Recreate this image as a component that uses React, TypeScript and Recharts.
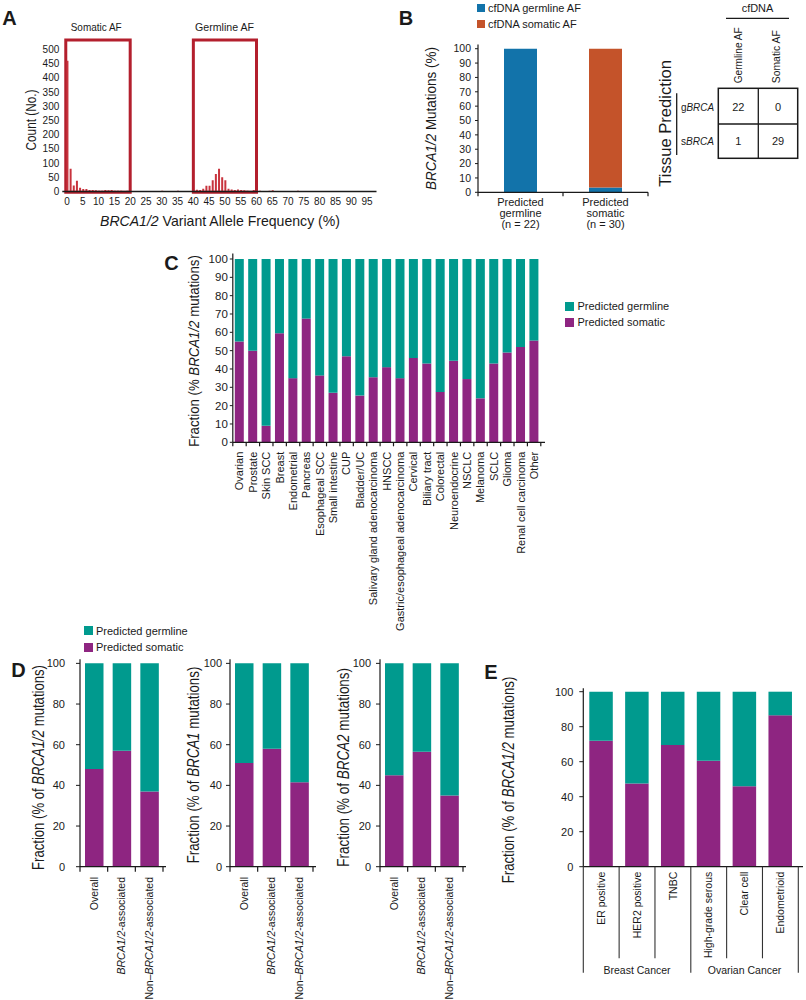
import React from 'react';
import { BarChart, Bar, XAxis, YAxis, ReferenceArea, Legend } from 'recharts';

const FONT = '"Liberation Sans", Arial, Helvetica, sans-serif';
const INK = '#1a1a1a';
const TEAL = '#009a8e';
const PURPLE = '#8e2581';
const BLUE = '#1273aa';
const ORANGE = '#c4532a';
const BOX_RED = '#b31f2d';
const BAR_RED = '#c8333d';

// ---------- Panel A: histogram of variant allele frequency ----------
const afBins = [0,1,2,3,4,5,6,7,8,9,10,11,12,13,14,15,16,17,18,19,20,21,22,23,24,25,26,27,28,29,30,31,32,33,34,35,36,37,38,39,40,41,42,43,44,45,46,47,48,49,50,51,52,53,54,55,56,57,58,59,60,61,62,63,64,65,66,67,68,69,70,71,72,73,74,75,76,77,78,79,80,81,82,83,84,85,86,87,88,89,90,91];
const afCounts = [460,80,21,38,13,9,9,5,5,4,3,3,5,4,5,3,3,3,2,3,2,0,2,2,0,2,0,2,2,0,3,0,2,0,0,3,2,2,2,1,1,6,5,10,20,20,40,62,80,50,40,10,7,5,7,5,4,3,2,5,3,3,2,0,3,4,2,0,1,0,2,0,2,3,0,1,0,2,1,0,1,0,1,0,0,2,2,1,2,1,2,1];
const afTicks = [0,5,10,15,20,25,30,35,40,45,50,55,60,65,70,75,80,85,90,95];
const countTicks = [0,50,100,150,200,250,300,350,400,450,500];
const somaticWindow = [0, 20];
const germlineWindow = [40, 60];

// ---------- Panel B ----------
const bCategories = ['Predicted germline', 'Predicted somatic'];
const bLabelLines = [['Predicted', 'germline', '(n = 22)'], ['Predicted', 'somatic', '(n = 30)']];
const bGermlineAF = [100, 3.3];
const bSomaticAF = [0, 96.7];
const bTicks = [0,10,20,30,40,50,60,70,80,90,100];
const tableRows = ['gBRCA', 'sBRCA'];
const tableCols = ['Germline AF', 'Somatic AF'];
const tableValues = [[22, 0], [1, 29]];

// ---------- Panel C ----------
const cTumors = ['Ovarian','Prostate','Skin SCC','Breast','Endometrial','Pancreas','Esophageal SCC','Small intestine','CUP','Bladder/UC','Salivary gland adenocarcinoma','HNSCC','Gastric/esophageal adenocarcinoma','Cervical','Biliary tract','Colorectal','Neuroendocrine','NSCLC','Melanoma','SCLC','Glioma','Renal cell carcinoma','Other'];
const cSomatic = [55,50,9,59.5,35,67.5,36.5,27,47,25.5,35.5,41,35,46,43,27.5,44.5,34.5,24,43,49,52,55.5];
const cGermline = [45,50,91,40.5,65,32.5,63.5,73,53,74.5,64.5,59,65,54,57,72.5,55.5,65.5,76,57,51,48,44.5];
const pctTicks10 = [0,10,20,30,40,50,60,70,80,90,100];

// ---------- Panel D ----------
const dCategories = ['Overall', 'BRCA1/2-associated', 'Non\u2013BRCA1/2-associated'];
const d1Somatic = [48, 57, 37];
const d1Germline = [52, 43, 63];
const d2Somatic = [51, 58, 41.5];
const d2Germline = [49, 42, 58.5];
const d3Somatic = [45, 56.5, 35];
const d3Germline = [55, 43.5, 65];
const pctTicks20 = [0,20,40,60,80,100];

// ---------- Panel E ----------
const eSubtypes = ['ER positive','HER2 positive','TNBC','High-grade serous','Clear cell','Endometrioid'];
const eSomatic = [72, 47.5, 69.5, 60.5, 46, 86.5];
const eGermline = [28, 52.5, 30.5, 39.5, 54, 13.5];
const eGroups = ['Breast Cancer', 'Ovarian Cancer'];
const eGroupOf = [0, 0, 0, 1, 1, 1];

function rich(s: string) {
  const parts = s.split(/(BRCA1\/2|BRCA1|BRCA2|BRCA)/).filter((p) => p !== '');
  return parts.map((p, i) =>
    /^BRCA/.test(p) ? <tspan key={i} fontStyle="italic">{p}</tspan> : <tspan key={i}>{p}</tspan>
  );
}

const tickStyle = (size: number) => ({ fontSize: size, fill: INK, fontFamily: FONT });

const makeLegend = (order: string[], sq: number, rowH: number, gap: number) => (props: any) => {
  const items = (props.payload || []).slice().sort(
    (a: any, b: any) => order.indexOf(a.value) - order.indexOf(b.value)
  );
  return (
    <div style={{ fontFamily: FONT, fontSize: 11, color: INK, whiteSpace: 'nowrap' }}>
      {items.map((it: any) => (
        <div key={it.value} style={{ display: 'flex', alignItems: 'center', height: rowH }}>
          <span style={{ display: 'inline-block', width: sq, height: sq, background: it.color, marginRight: gap }} />
          <span>{it.value}</span>
        </div>
      ))}
    </div>
  );
};

// ---------- Panel A chart ----------
const aData = afBins.map((b, i) => ({ af: b, count: afCounts[i] }));

function PanelA() {
  return (
    <BarChart width={400} height={230} data={aData} margin={{ top: 39.5, right: 23.5, bottom: 0, left: 22.3 }}>
      <XAxis type="number" dataKey="af" domain={[-1.5, 98]} ticks={afTicks} interval={0} allowDataOverflow
        tickLine={false} axisLine={{ stroke: INK, strokeWidth: 1.6 }} tickSize={0} tickMargin={6}
        tick={tickStyle(10)} height={38.5} />
      <YAxis type="number" domain={[0, 535]} ticks={countTicks} interval={0} width={40}
        axisLine={false} tickLine={false} tickSize={0} tickMargin={3} tick={tickStyle(10)} />
      <Bar dataKey="count" fill={BAR_RED} barSize={2} isAnimationActive={false} />
      <ReferenceArea x1={somaticWindow[0] - 0.4} x2={somaticWindow[1]} y1={-3} y2={533} fill="none" fillOpacity={0}
        stroke={BOX_RED} strokeWidth={3} ifOverflow="visible" />
      <ReferenceArea x1={germlineWindow[0]} x2={germlineWindow[1]} y1={-3} y2={533} fill="none" fillOpacity={0}
        stroke={BOX_RED} strokeWidth={3} ifOverflow="visible" />
    </BarChart>
  );
}

// ---------- Panel B chart ----------
const bData = bCategories.map((c, i) => ({ cat: c, germ: bGermlineAF[i], som: bSomaticAF[i] }));
const B_BW = 85;
const BTick = (props: any) => {
  const { x, y, index } = props;
  const lines = bLabelLines[index] || [];
  return (
    <g>
      <line x1={x - B_BW / 2} x2={x - B_BW / 2} y1={y} y2={y + 4} stroke={INK} strokeWidth={1.2} />
      {index === bCategories.length - 1 && (
        <line x1={x + B_BW / 2} x2={x + B_BW / 2} y1={y} y2={y + 4} stroke={INK} strokeWidth={1.2} />
      )}
      <text x={x} y={y + 10} textAnchor="middle" fontSize={11} fill={INK} fontFamily={FONT}>
        {lines.map((l, i) => (
          <tspan key={i} x={x} dy={i === 0 ? '0.35em' : 11}>{l}</tspan>
        ))}
      </text>
    </g>
  );
};

function PanelB() {
  return (
    <BarChart width={262} height={232} data={bData} margin={{ top: 44.4, right: 24, bottom: 0, left: 38 }} barSize={33}>
      <XAxis dataKey="cat" interval={0} tick={<BTick />} tickLine={false} tickSize={0} tickMargin={0}
        axisLine={{ stroke: INK, strokeWidth: 1.2 }} height={39.7} />
      <YAxis type="number" domain={[0, 103]} ticks={bTicks} interval={0} width={30}
        axisLine={{ stroke: INK, strokeWidth: 1.2 }} tickLine={{ stroke: INK }} tickSize={3} tickMargin={4}
        tick={tickStyle(10.5)} />
      <Bar dataKey="germ" name="cfDNA germline AF" stackId="s" fill={BLUE} isAnimationActive={false} />
      <Bar dataKey="som" name="cfDNA somatic AF" stackId="s" fill={ORANGE} isAnimationActive={false} />
      <Legend layout="vertical" align="center" verticalAlign="middle"
        content={makeLegend(['cfDNA germline AF', 'cfDNA somatic AF'], 8, 16.5, 3)}
        wrapperStyle={{ left: 67, top: -0.5, width: 130, height: 34 }} />
    </BarChart>
  );
}

// ---------- Panel C chart ----------
const cData = cTumors.map((t, i) => ({ tumor: t, som: cSomatic[i], germ: cGermline[i] }));
const C_BW = 308 / 23;
const CTick = (props: any) => {
  const { x, y, payload, index } = props;
  return (
    <g>
      <line x1={x - C_BW / 2} x2={x - C_BW / 2} y1={y} y2={y + 4} stroke={INK} strokeWidth={1.2} />
      {index === cTumors.length - 1 && (
        <line x1={x + C_BW / 2} x2={x + C_BW / 2} y1={y} y2={y + 4} stroke={INK} strokeWidth={1.2} />
      )}
      <text x={x} y={y + 9.4} transform={`rotate(-90 ${x} ${y + 9.4})`} textAnchor="end" dy="0.35em"
        fontSize={11} fill={INK} fontFamily={FONT}>{payload.value}</text>
    </g>
  );
};

function PanelC() {
  return (
    <BarChart width={560} height={392} data={cData} margin={{ top: 13.5, right: 165, bottom: 0, left: 52.8 }} barSize={9}>
      <XAxis dataKey="tumor" interval={0} tick={<CTick />} tickLine={false} tickSize={0} tickMargin={0}
        axisLine={{ stroke: INK, strokeWidth: 1.2 }} height={189.7} padding={{ left: 0, right: 4.2 }} />
      <YAxis type="number" domain={[0, 103]} ticks={pctTicks10} interval={0} width={30}
        axisLine={{ stroke: INK, strokeWidth: 1.2 }} tickLine={{ stroke: INK }} tickSize={3} tickMargin={2}
        tick={tickStyle(11.5)} />
      <Bar dataKey="som" name="Predicted somatic" stackId="s" fill={PURPLE} isAnimationActive={false} />
      <Bar dataKey="germ" name="Predicted germline" stackId="s" fill={TEAL} isAnimationActive={false} />
      <Legend layout="vertical" align="center" verticalAlign="middle"
        content={makeLegend(['Predicted germline', 'Predicted somatic'], 9, 16, 3.5)}
        wrapperStyle={{ left: 415, top: 58, width: 130, height: 32 }} />
    </BarChart>
  );
}

// ---------- Panel D charts ----------
const D_BW = 83 / 3;
const DTick = (props: any) => {
  const { x, y, payload, index } = props;
  return (
    <g>
      <line x1={x - D_BW / 2} x2={x - D_BW / 2} y1={y} y2={y + 5} stroke={INK} strokeWidth={1.2} />
      {index === dCategories.length - 1 && (
        <line x1={x + D_BW / 2} x2={x + D_BW / 2} y1={y} y2={y + 5} stroke={INK} strokeWidth={1.2} />
      )}
      <text x={x} y={y + 10.3} transform={`rotate(-90 ${x} ${y + 10.3})`} textAnchor="end" dy="0.35em"
        fontSize={10.5} fill={INK} fontFamily={FONT}>{rich(String(payload.value))}</text>
    </g>
  );
};

function PanelD({ som, germ, tickMargin, legend }: { som: number[]; germ: number[]; tickMargin: number; legend?: boolean }) {
  const data = dCategories.map((c, i) => ({ cat: c, som: som[i], germ: germ[i] }));
  return (
    <BarChart width={175} height={385} data={data} margin={{ top: 44.3, right: 9, bottom: 0, left: 50 }} barSize={18.5}>
      <XAxis dataKey="cat" interval={0} tick={<DTick />} tickLine={false} tickSize={0} tickMargin={0}
        axisLine={{ stroke: INK, strokeWidth: 1.2 }} height={133.3} padding={{ left: 0, right: 3 }} />
      <YAxis type="number" domain={[0, 102]} ticks={pctTicks20} interval={0} width={30}
        axisLine={{ stroke: INK, strokeWidth: 1.2 }} tickLine={{ stroke: INK }} tickSize={4} tickMargin={tickMargin}
        tick={tickStyle(11)} />
      <Bar dataKey="som" name="Predicted somatic" stackId="s" fill={PURPLE} isAnimationActive={false} />
      <Bar dataKey="germ" name="Predicted germline" stackId="s" fill={TEAL} isAnimationActive={false} />
      {legend && (
        <Legend layout="vertical" align="center" verticalAlign="middle"
          content={makeLegend(['Predicted germline', 'Predicted somatic'], 9, 16.7, 3)}
          wrapperStyle={{ left: 84, top: 7.2, width: 120, height: 34 }} />
      )}
    </BarChart>
  );
}

// ---------- Panel E chart ----------
const eData = eSubtypes.map((s, i) => ({ sub: s, som: eSomatic[i], germ: eGermline[i] }));
const E_BW = 215 / 6;
const ETick = (props: any) => {
  const { x, y, payload, index } = props;
  const groupStart = index === 0 || eGroupOf[index] !== eGroupOf[index - 1];
  const leftLen = groupStart ? 106 : 91.6;
  const isLast = index === eSubtypes.length - 1;
  const isGroupCenter = index === 1 || index === 4;
  return (
    <g>
      <line x1={x - E_BW / 2} x2={x - E_BW / 2} y1={y} y2={y + leftLen} stroke="#333" strokeWidth={1.1} />
      {isLast && <line x1={x + E_BW / 2} x2={x + E_BW / 2} y1={y} y2={y + 106} stroke="#333" strokeWidth={1.1} />}
      <text x={x} y={y + 5} transform={`rotate(-90 ${x} ${y + 5})`} textAnchor="end" dy="0.35em"
        fontSize={10.5} fill={INK} fontFamily={FONT}>{payload.value}</text>
      {isGroupCenter && (
        <text x={x} y={y + 103.3} textAnchor="middle" dominantBaseline="central" fontSize={10.5} fill={INK}
          fontFamily={FONT}>{eGroups[eGroupOf[index]]}</text>
      )}
    </g>
  );
};

function PanelE() {
  return (
    <BarChart width={266} height={350} data={eData} margin={{ top: 38.2, right: 3, bottom: 0, left: 13.3 }} barSize={23.5}>
      <XAxis dataKey="sub" interval={0} tick={<ETick />} tickLine={false} tickSize={0} tickMargin={0}
        axisLine={{ stroke: INK, strokeWidth: 1.2 }} height={133.3} padding={{ left: 0, right: 4.7 }} />
      <YAxis type="number" domain={[0, 102]} ticks={pctTicks20} interval={0} width={30}
        axisLine={{ stroke: INK, strokeWidth: 1.2 }} tickLine={{ stroke: INK }} tickSize={4} tickMargin={6}
        tick={tickStyle(11)} />
      <Bar dataKey="som" name="Predicted somatic" stackId="s" fill={PURPLE} isAnimationActive={false} />
      <Bar dataKey="germ" name="Predicted germline" stackId="s" fill={TEAL} isAnimationActive={false} />
    </BarChart>
  );
}

// ---------- Overlay text ----------
const T = ({ x, y, text, size, len, rot, weight, anchor }: any) => (
  <text x={x} y={y} fontSize={size} fontFamily={FONT} fill={INK} textAnchor={anchor || 'middle'}
    dominantBaseline="central" fontWeight={weight || 400}
    transform={rot ? `rotate(${rot} ${x} ${y})` : undefined}
    textLength={len} lengthAdjust={len ? 'spacingAndGlyphs' : undefined}>{rich(text)}</text>
);

function Overlay() {
  return (
    <svg width={806} height={1000} style={{ position: 'absolute', left: 0, top: 0, pointerEvents: 'none' }}>
      {/* panel letters */}
      <T x={9.5} y={17.5} text="A" size={20} weight={700} />
      <T x={406} y={17.5} text="B" size={20} weight={700} />
      <T x={171.5} y={262.5} text="C" size={20} weight={700} />
      <T x={18.5} y={670} text="D" size={20} weight={700} />
      <T x={491} y={671.5} text="E" size={20} weight={700} />
      {/* panel A */}
      <T x={96.2} y={27.3} text="Somatic AF" size={11} len={51} />
      <T x={224.5} y={27.3} text="Germline AF" size={11} len={59} />
      <T x={30} y={120} text="Count (No.)" size={15} len={61} rot={-90} />
      <T x={220} y={220} text="BRCA1/2 Variant Allele Frequency (%)" size={15} len={240} />
      {/* panel B */}
      <T x={429.5} y={118.5} text="BRCA1/2 Mutations (%)" size={15} len={143} rot={-90} />
      <T x={757.5} y={7.5} text="cfDNA" size={11} len={31.7} />
      <line x1={726} x2={789} y1={18.3} y2={18.3} stroke={INK} strokeWidth={1.3} />
      <T x={738.3} y={55.3} text={tableCols[0]} size={11} len={56} rot={-90} />
      <T x={776.5} y={56.7} text={tableCols[1]} size={11} len={53} rot={-90} />
      <T x={665} y={123.3} text="Tissue Prediction" size={16} len={126.7} rot={-90} />
      <line x1={676.7} x2={676.7} y1={93.3} y2={155} stroke={INK} strokeWidth={1.3} />
      <rect x={718.3} y={88.3} width={79.4} height={70} fill="none" stroke={INK} strokeWidth={1.5} />
      <line x1={758.3} x2={758.3} y1={88.3} y2={158.3} stroke={INK} strokeWidth={1.3} />
      <line x1={718.3} x2={797.7} y1={124} y2={124} stroke={INK} strokeWidth={1.3} />
      {tableRows.map((r, i) => (
        <T key={r} x={714} y={i === 0 ? 107 : 140.5} text={r} size={11} len={33} anchor="end" />
      ))}
      {tableValues.map((row, i) =>
        row.map((v, j) => (
          <T key={`${i}-${j}`} x={j === 0 ? 738.3 : 778} y={i === 0 ? 107 : 140.5} text={String(v)} size={11} />
        ))
      )}
      {/* panel C */}
      <T x={193.3} y={351} text="Fraction (% BRCA1/2 mutations)" size={15} len={191.7} rot={-90} />
      {/* panel D */}
      <T x={37.5} y={767.5} text="Fraction (% of BRCA1/2 mutations)" size={16} len={205} rot={-90} />
      <T x={193} y={765} text="Fraction (% of BRCA1 mutations)" size={16} len={196.7} rot={-90} />
      <T x={343} y={767.3} text="Fraction (% of BRCA2 mutations)" size={16} len={198.7} rot={-90} />
      {/* panel E */}
      <T x={508.3} y={780} text="Fraction (% of BRCA1/2 mutations)" size={16} len={206.7} rot={-90} />
    </svg>
  );
}

const at = (left: number, top: number) => ({ position: 'absolute' as const, left, top });

export default function App() {
  return (
    <div style={{ position: 'absolute', left: 0, top: 0, width: 806, height: 1000, background: '#fff', overflow: 'hidden', fontFamily: FONT }}>
      <div style={at(0, 0)}><PanelA /></div>
      <div style={at(410, 0)}><PanelB /></div>
      <div style={at(150, 240)}><PanelC /></div>
      <div style={at(0, 615)}><PanelD som={d1Somatic} germ={d1Germline} tickMargin={11} legend /></div>
      <div style={at(150, 615)}><PanelD som={d2Somatic} germ={d2Germline} tickMargin={4} /></div>
      <div style={at(300, 615)}><PanelD som={d3Somatic} germ={d3Germline} tickMargin={5} /></div>
      <div style={at(540, 650)}><PanelE /></div>
      <Overlay />
    </div>
  );
}
